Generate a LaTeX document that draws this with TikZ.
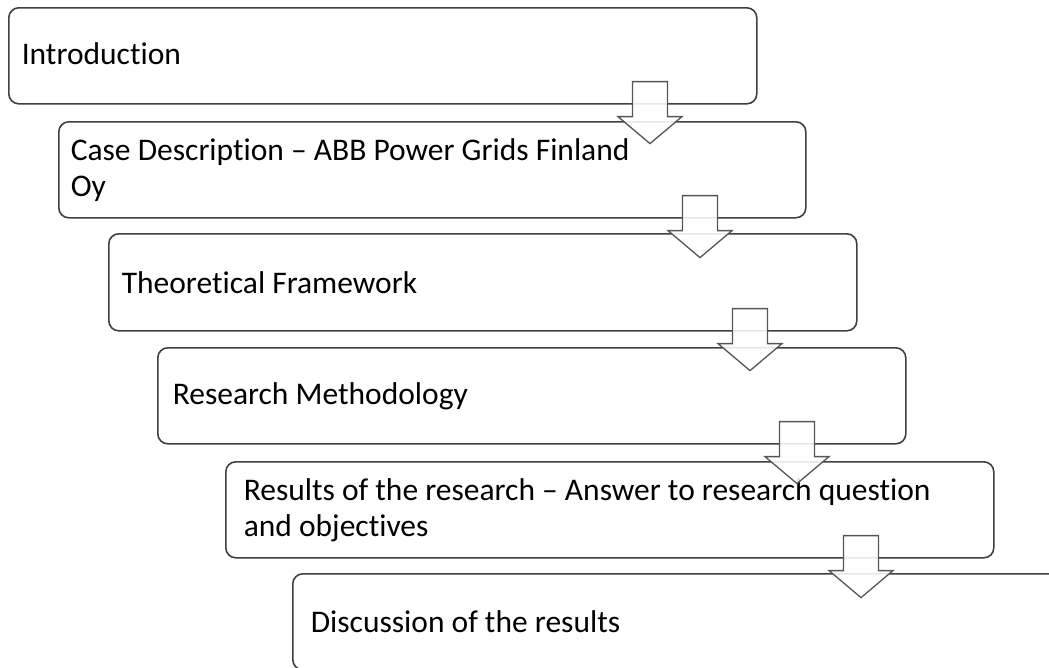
\documentclass[tikz,border=0pt]{standalone}
\usepackage{fontspec}
\setmainfont{Carlito}[Ligatures={NoCommon}]
\usetikzlibrary{calc}
\definecolor{boxline}{HTML}{404040}
\definecolor{arrowline}{HTML}{555555}
\begin{document}
\begin{tikzpicture}[x=1pt,y=-1pt,
  stage/.style={draw=boxline, line width=1.6pt, rounded corners=10pt,
    anchor=north west, minimum height=96pt, inner ysep=0pt, align=flush left,
    font=\fontsize{31.5}{36}\selectfont, text=black},
  flowarrow/.style={draw=arrowline, line width=1.3pt, fill=white,
    fill opacity=0.88, line join=miter},
  downarrow/.pic={\path[flowarrow] (-17.5,-23) -- (17.5,-23) -- (17.5,12)
    -- (32,12) -- (0,39) -- (-32,12) -- (-17.5,12) -- cycle;}
]
\useasboundingbox (0,0) rectangle (1049,667);
\clip (0,0) rectangle (1049,667);

% stages of the thesis, stepping down to the right
\node[stage, inner xsep=13pt, text width=722pt] (b1) at (8,7)
  {\raisebox{4pt}{Introduction}};
\node[stage, inner xsep=12pt, text width=723pt] (b2) at (58,121)
  {Case Description -- ABB Power Grids Finland\\Oy};
\node[stage, inner xsep=13pt, text width=722pt, minimum height=97pt] (b3) at (108,233)
  {Theoretical Framework};
\node[stage, inner xsep=15pt, text width=718pt] (b4) at (157,347)
  {Research Methodology};
\node[stage, inner xsep=18pt, text width=732pt] (b5) at (225,461)
  {Results of the research -- Answer to research question\\and objectives};
\node[stage, inner xsep=18pt, text width=740pt] (b6) at (292,573)
  {Discussion of the results};

% block arrows linking each stage to the next
\pic at ($(b1.south west)+(642,0)$) {downarrow};
\pic at ($(b2.south west)+(642,0)$) {downarrow};
\pic at ($(b3.south west)+(642,0)$) {downarrow};
\pic at ($(b4.south west)+(640,0)$) {downarrow};
\pic at ($(b5.south west)+(636,0)$) {downarrow};
\end{tikzpicture}
\end{document}
